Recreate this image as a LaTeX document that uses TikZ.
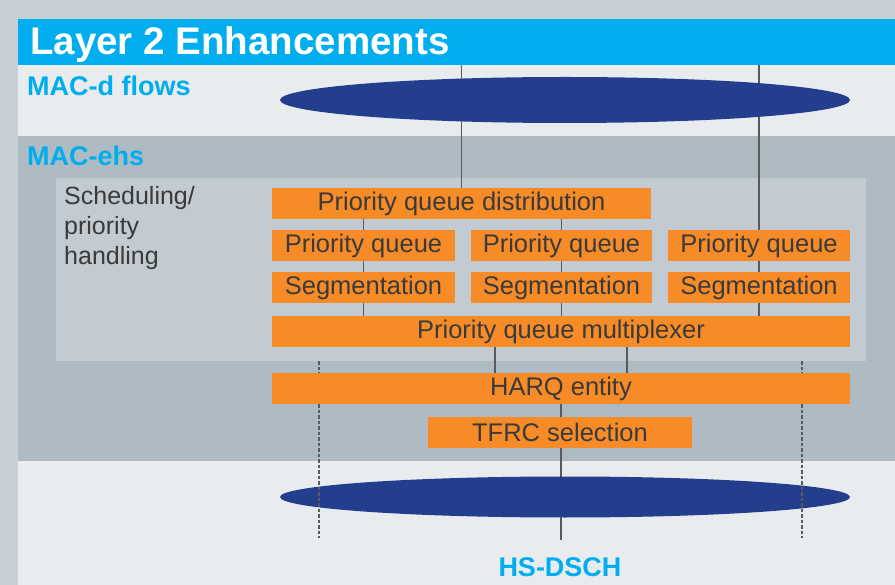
\documentclass[tikz,border=0pt]{standalone}
\usepackage{fontspec}
\setmainfont{Liberation Sans}
\usetikzlibrary{shapes.geometric}

\definecolor{page_gray}{HTML}{C8D0D7}
\definecolor{band_light}{HTML}{E8ECEF}
\definecolor{band_mid}{HTML}{AFBBC3}
\definecolor{panel_gray}{HTML}{C3CBD2}
\definecolor{title_cyan}{HTML}{00ADEE}
\definecolor{mac_orange}{HTML}{F68B28}
\definecolor{flow_blue}{HTML}{243E8E}
\definecolor{box_text}{HTML}{3A3A3A}
\definecolor{link_gray}{HTML}{5A5A5A}

\begin{document}
\begin{tikzpicture}[
  x=1pt, y=-1pt,
  block/.style={rectangle, minimum height=31pt, inner sep=0pt, fill=mac_orange, text=box_text, font=\fontsize{25.5}{29}\selectfont},
  flow/.style={ellipse, minimum width=570pt, inner sep=0pt, fill=flow_blue},
  link/.style={draw=link_gray, line width=1.5pt},
  hint/.style={draw=link_gray, line width=1.5pt, dash pattern=on 3.5pt off 2pt},
  head/.style={text=title_cyan, inner sep=0pt, font=\bfseries\fontsize{27}{30}\selectfont},
]
\useasboundingbox (0,0) rectangle (895,585);

% bands
\fill[page_gray] (0,0) rectangle (895,585);
\fill[title_cyan] (18,19) rectangle (895,65);
\fill[band_light] (18,65) rectangle (895,136);
\fill[band_mid] (18,136) rectangle (895,461);
\fill[band_light] (18,461) rectangle (895,585);
\draw (461,269.5) node (sched) [rectangle, fill=panel_gray, minimum width=810pt, minimum height=183pt, inner sep=0pt] {};

% boxes
\draw (461.5,203.5) node (dist) [block, minimum width=379pt] {Priority queue distribution};
\foreach \n/\x/\w in {1/363.5/183, 2/561.5/181, 3/759/182} {
  \draw (\x,245.5) node (pq\n) [block, minimum width=\w pt] {Priority queue};
  \draw (\x,287.5) node (seg\n) [block, minimum width=\w pt] {Segmentation};
}
\draw (561,331.5) node (mux) [block, minimum width=578pt] {Priority queue multiplexer};
\draw (561,388.5) node (harq) [block, minimum width=578pt] {HARQ entity};
\draw (560,432.5) node (tfrc) [block, minimum width=264pt] {TFRC selection};

% links
\coordinate (band_top) at (0,65);
\coordinate (band_bottom) at (0,540);
\draw[link] (dist.north) -- (dist.north |- band_top);
\draw[link] (pq3.north) -- (pq3.north |- band_top);
\foreach \n in {1,2}
  \draw[link] (dist.south -| pq\n) -- (pq\n.north);
\foreach \n in {1,2,3} {
  \draw[link] (pq\n.south) -- (seg\n.north);
  \draw[link] (seg\n.south) -- (seg\n.south |- mux.north);
}
\foreach \dx in {-66,66}
  \draw[link] ([xshift=\dx pt]mux.south) -- ([xshift=\dx pt]harq.north);
\draw[link] (harq.south) -- (harq.south |- tfrc.north);
\draw[link] ([xshift=1pt]tfrc.south) -- ([xshift=1pt]tfrc.south |- band_bottom);

% flows
\draw (565,100) node (macd) [flow, minimum height=46pt] {};
\draw (565,497) node (hsdsch) [flow, minimum height=41pt] {};

\coordinate (dash_left) at (319,538);
\coordinate (dash_right) at (802,538);
\foreach \d in {dash_left, dash_right} {
  \draw[hint] (sched.south -| \d) -- (harq.north -| \d);
  \draw[hint] (harq.south -| \d) -- (\d);
}

% labels
\draw (30,55) node (title) [anchor=base west, inner sep=0pt, text=white, font=\bfseries\fontsize{38.5}{42}\selectfont] {Layer 2 Enhancements};
\draw (27,96) node (macd_label) [head, anchor=base west] {MAC-d flows};
\draw (27,166) node (mace_label) [head, anchor=base west] {MAC-ehs};
\draw (560,576) node (hs_label) [head, anchor=base] {HS-DSCH};
\draw (64,186) node (sched_label) [anchor=north west, inner sep=0pt, align=left, text=box_text, font=\fontsize{25}{30}\selectfont] {Scheduling/\\priority\\handling};
\end{tikzpicture}
\end{document}
